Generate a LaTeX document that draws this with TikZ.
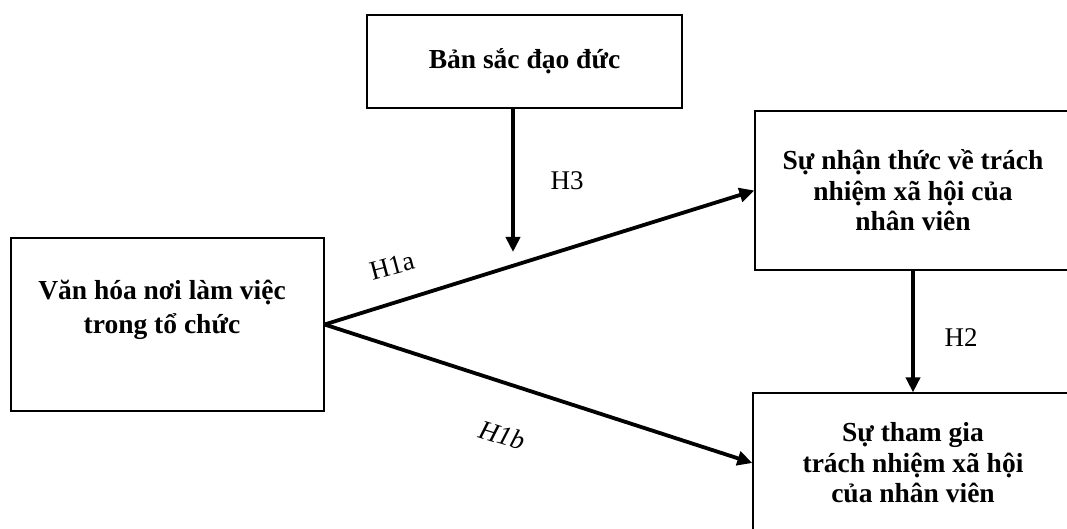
\documentclass[tikz,border=0pt]{standalone}
\usepackage{fontspec}
\setmainfont{Liberation Serif}
\usetikzlibrary{arrows.meta,calc}
\begin{document}
\begin{tikzpicture}[x=1pt,y=-1pt,
  box/.style={draw,line width=1.2pt,rectangle,inner sep=0pt,align=center,
    font=\bfseries\fontsize{27.5}{30.5}\selectfont},
  boxtext/.style={inner sep=0pt,align=center,font=\bfseries\fontsize{27.5}{34}\selectfont},
  link/.style={line width=3.8pt,-{Triangle[length=15pt,width=14pt]}},
  lbl/.style={inner sep=0pt,font=\fontsize{27}{30}\selectfont}]
\clip (0,0) rectangle (1067,529);
\fill[white] (0,0) rectangle (1067,529);
% boxes
\node[box,minimum width=313pt,minimum height=173pt] (culture) at (167.5,324.5) {};
\node[boxtext] (culturetext) at (162,310) {Văn hóa nơi làm việc\\trong tổ chức};
\node[box,minimum width=315pt,minimum height=93pt] (identity) at (524.5,61.5) {Bản sắc đạo đức};
\node[box,minimum width=316pt,minimum height=159pt] (percep) at (913,190.5) {Sự nhận thức về trách\\nhiệm xã hội của\\nhân viên};
\node[box,minimum width=320pt,minimum height=140pt] (partic) at (913,463) {Sự tham gia\\trách nhiệm xã hội\\của nhân viên};
% connectors
\coordinate (h3end) at (513,252);
\draw[link] (culture.east) -- (percep.west);
\draw[link] (culture.east) -- (partic.west);
\draw[link] (percep.south) -- (partic.north);
\draw[link] (identity.south -| h3end) -- (h3end);
% labels
\node[lbl] (lh3) at (567,181) {H3};
\node[lbl,rotate=15] (lh1a) at (392,266) {H1a};
\node[lbl,rotate=-17,font=\itshape\fontsize{27}{30}\selectfont] (lh1b) at (502,435) {H1b};
\node[lbl] (lh2) at (961,338) {H2};
\end{tikzpicture}
\end{document}
